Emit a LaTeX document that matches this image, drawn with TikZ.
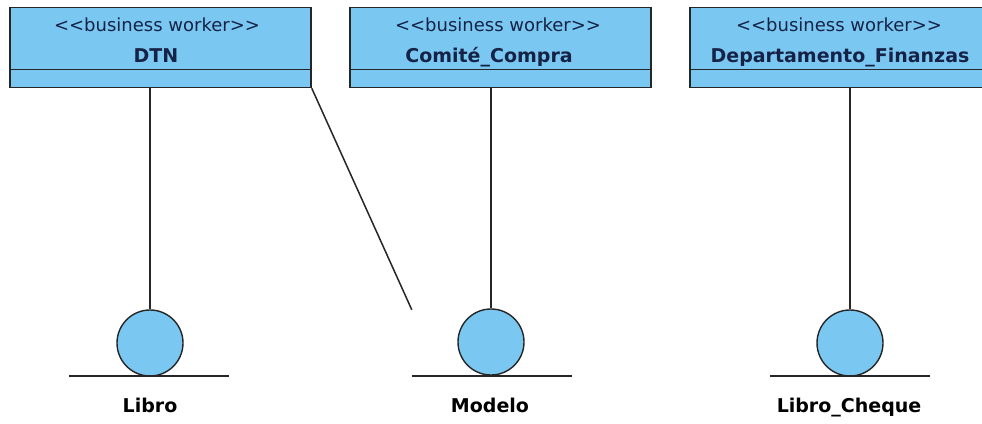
\documentclass[tikz,border=0pt]{standalone}
\usepackage{fontspec}
\setmainfont{DejaVu Sans}
\definecolor{umlfill}{RGB}{122,200,242}
\definecolor{umltext}{RGB}{22,34,70}
\begin{document}
\begin{tikzpicture}[x=1pt,y=-1pt,
  worker/.style={draw=black!85, fill=umlfill, line width=1.5pt, minimum width=301pt, minimum height=80pt, inner sep=0pt},
  stereo/.style={text=umltext, font=\fontsize{18}{20}\selectfont, inner sep=0pt, anchor=base},
  wname/.style={text=umltext, font=\fontsize{19}{21}\selectfont\bfseries, inner sep=0pt, anchor=base},
  entcirc/.style={circle, draw=black!85, fill=umlfill, line width=1.4pt, minimum size=66pt, inner sep=0pt},
  entbox/.style={minimum width=160pt, minimum height=66pt, inner sep=0pt},
  entlabel/.style={text=black, font=\fontsize{19}{21}\selectfont\bfseries, inner sep=0pt, anchor=base},
  conn/.style={line width=1.5pt, draw=black!85}]
\useasboundingbox (0,0) rectangle (982,423);
\clip (0,0) rectangle (982,423);

% business workers
\node[worker] (dtn) at (160.5,47.5) {};
\draw[line width=1.5pt, draw=black!85] ([yshift=19pt]dtn.south west) -- ([yshift=19pt]dtn.south east);
\node[stereo] (dtnS) at (157,31) {<{}<business worker>{}>};
\node[wname] (dtnN) at (156,62) {DTN};

\node[worker] (cc) at (500.5,47.5) {};
\draw[line width=1.5pt, draw=black!85] ([yshift=19pt]cc.south west) -- ([yshift=19pt]cc.south east);
\node[stereo] (ccS) at (498,31) {<{}<business worker>{}>};
\node[wname] (ccN) at (489,62) {Comité\_Compra};

\node[worker] (df) at (840.5,47.5) {};
\draw[line width=1.5pt, draw=black!85] ([yshift=19pt]df.south west) -- ([yshift=19pt]df.south east);
\node[stereo] (dfS) at (839,31) {<{}<business worker>{}>};
\node[wname] (dfN) at (840,62) {Departamento\_Finanzas};

% entities
\node[entbox] (lib) at (149,343) {};
\node[entcirc] (libC) at (150,343) {};
\draw[conn] (lib.south west) -- (lib.south east);
\node[entlabel] (libL) at (150,412) {Libro};

\node[entbox] (mod) at (492,343) {};
\node[entcirc] (modC) at (491,342) {};
\draw[conn] (mod.south west) -- (mod.south east);
\node[entlabel] (modL) at (490,412) {Modelo};

\node[entbox] (lc) at (850,343) {};
\node[entcirc] (lcC) at (850,343) {};
\draw[conn] (lc.south west) -- (lc.south east);
\node[entlabel] (lcL) at (849,412) {Libro\_Cheque};

% connectors
\draw[conn] (libC.north) -- (libC.north |- dtn.south);
\draw[conn] (modC.north) -- (modC.north |- cc.south);
\draw[conn] (lcC.north) -- (lcC.north |- df.south);
\draw[conn] (dtn.south east) -- (mod.north west);
\end{tikzpicture}
\end{document}
